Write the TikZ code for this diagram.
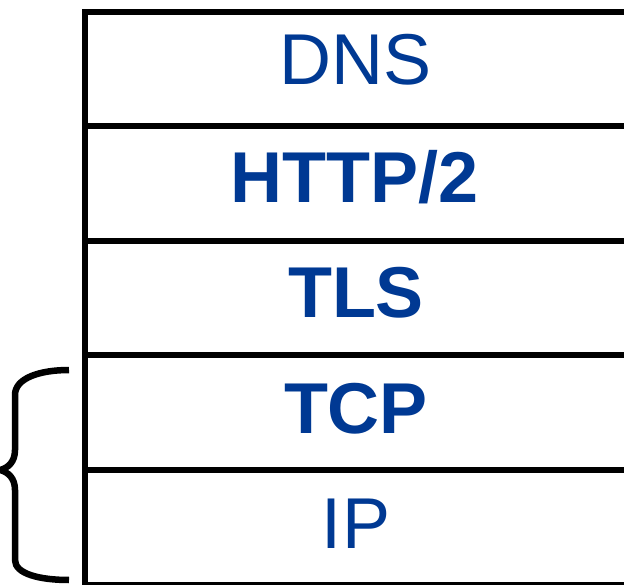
\documentclass[tikz,border=0pt]{standalone}
\usepackage{fontspec}
\setmainfont{Liberation Sans}
\definecolor{layerblue}{RGB}{0,57,147}
\begin{document}
\begin{tikzpicture}[x=1pt,y=-1pt,
  layer/.style={draw=black,line width=6pt,minimum width=544pt,minimum height=114.5pt,
    anchor=north west,inner sep=0pt,outer sep=0pt},
  lbl/.style={text=layerblue,font=\fontsize{72}{72}\selectfont,anchor=base,inner sep=0pt},
  bracket/.style={draw=black,line width=6.5pt,line cap=butt,line join=round}]
  \useasboundingbox (0,0) rectangle (624,585);
  % protocol stack, one box per layer
  \node[layer] (dns)  at (84.5,12)  {};
  \node[layer] (http) at (84.5,126.5) {};
  \node[layer] (tls)  at (84.5,241) {};
  \node[layer] (tcp)  at (84.5,355.5) {};
  \node[layer] (ip)   at (84.5,470) {};
  % layer names
  \node[lbl] (tdns)  at (356,85)  {DNS};
  \node[lbl] (thttp) at (355,203) {\bfseries HTTP/2};
  \node[lbl] (ttls)  at (356,318) {\bfseries TLS};
  \node[lbl] (ttcp)  at (356,433) {\bfseries TCP};
  \node[lbl] (tip)   at (356,548) {IP};
  % curly bracket grouping TCP and IP
  \draw[bracket] (69,370) .. controls (40,370) and (15,378) .. (15,395)
    -- (15,450) .. controls (15,462) and (8,468) .. (0,470)
    .. controls (8,472) and (15,478) .. (15,490)
    -- (15,560) .. controls (15,574) and (40,580) .. (69,580);
\end{tikzpicture}
\end{document}
